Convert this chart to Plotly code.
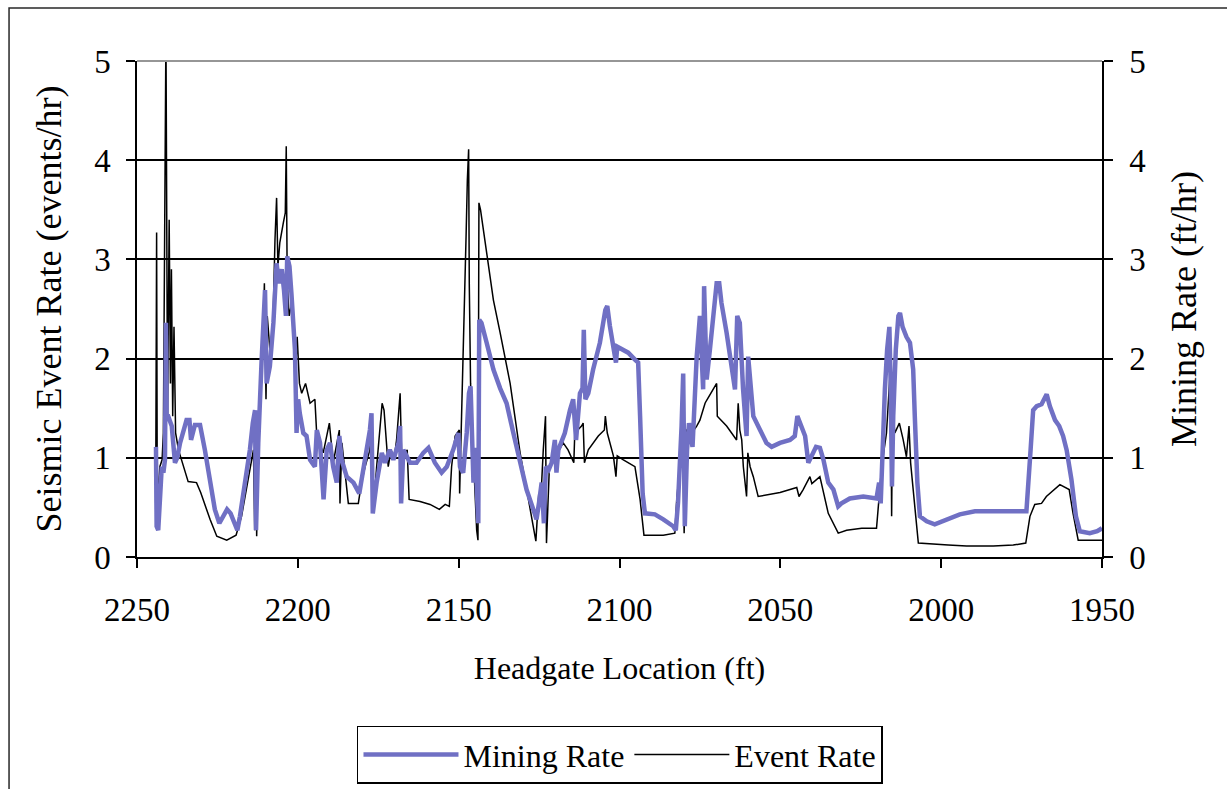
import plotly.graph_objects as go

# Event Rate (events/hr) vs headgate location (ft)
event_ft = [2244.2, 2243.9, 2243.7, 2242.9, 2242.2, 2241.8, 2241.0, 2240.8, 2240.5, 2240.0,
            2239.6, 2239.3, 2238.9, 2238.5, 2238.0, 2237.1, 2235.6, 2234.1, 2231.5, 2230.2,
            2227.3, 2225.2, 2222.1, 2219.2, 2217.5, 2215.4, 2213.8, 2213.4, 2213.0, 2212.8,
            2212.0, 2210.9, 2210.4, 2209.9, 2209.5, 2208.7, 2207.8, 2207.1, 2206.6, 2206.2,
            2205.6, 2204.5, 2203.9, 2203.6, 2203.3, 2202.7, 2201.9, 2201.2, 2200.7, 2200.2,
            2199.5, 2198.8, 2197.6, 2196.2, 2194.7, 2194.1, 2192.1, 2190.2, 2189.0, 2187.1,
            2186.9, 2186.3, 2184.3, 2181.2, 2180.2, 2179.1, 2177.6, 2177.05, 2176.5, 2175.5,
            2173.8, 2173.2, 2171.9, 2171.0, 2170.1, 2169.3, 2168.2, 2167.7, 2166.0, 2165.4,
            2162.0, 2158.9, 2156.0, 2154.2, 2152.9, 2152.2, 2151.1, 2149.8, 2149.7, 2149.1,
            2148.5, 2148.1, 2147.7, 2147.3, 2146.9, 2146.7, 2146.3, 2145.5, 2144.4, 2144.0,
            2143.7, 2143.2, 2141.3, 2139.2, 2137.1, 2134.0, 2130.9, 2126.8, 2126.0, 2125.1,
            2124.5, 2123.7, 2123.0, 2122.7, 2121.8, 2120.6, 2117.5, 2116.0, 2114.2, 2113.9,
            2111.8, 2111.3, 2110.9, 2109.7, 2106.6, 2104.7, 2104.4, 2103.8, 2101.9, 2101.1,
            2100.7, 2098.8, 2095.2, 2093.6, 2092.4, 2089.5, 2086.4, 2082.8, 2082.2, 2080.4,
            2079.9, 2079.3, 2077.5, 2076.0, 2075.0, 2073.4, 2072.9, 2069.8, 2069.6, 2066.7,
            2063.6, 2063.1, 2062.6, 2062.0, 2061.5, 2060.5, 2060.1, 2059.4, 2058.4, 2056.9,
            2050.1, 2044.9, 2044.2, 2042.9, 2040.8, 2040.2, 2037.7, 2035.1, 2032.0, 2029.4,
            2024.7, 2020.1, 2019.4, 2018.5, 2017.0, 2016.1, 2015.7, 2015.4, 2015.1, 2014.4,
            2013.0, 2011.8, 2010.8, 2010.0, 2009.5, 2007.9, 2007.1, 1997.8, 1992.1, 1983.8,
            1977.6, 1973.7, 1972.4, 1970.9, 1968.8, 1967.3, 1963.1, 1960.2, 1959.0, 1957.4,
            1950.0]
event_rate = [0.55, 3.27, 0.54, 0.91, 0.98, 1.25, 5.30, 3.90, 1.42, 3.40,
              1.75, 2.90, 1.42, 2.32, 1.25, 1.08, 0.91, 0.76, 0.75, 0.65,
              0.38, 0.21, 0.17, 0.22, 0.41, 0.78, 1.08, 0.27, 1.32, 0.21,
              1.42, 2.09, 2.76, 1.59, 2.43, 2.09, 2.26, 3.20, 3.62, 2.93,
              3.17, 3.37, 3.47, 4.14, 2.76, 2.43, 2.56, 2.36, 1.85, 2.22,
              1.75, 1.65, 1.75, 1.55, 1.59, 1.22, 1.05, 1.35, 0.95, 1.28,
              0.54, 1.15, 0.54, 0.54, 0.75, 0.91, 1.08, 1.42, 0.48, 0.91,
              1.55, 1.48, 0.91, 1.08, 0.98, 1.18, 1.65, 0.98, 1.08, 0.58,
              0.56, 0.53, 0.48, 0.53, 0.51, 0.91, 1.22, 1.28, 0.64, 1.42,
              2.09, 2.63, 3.23, 3.80, 4.11, 2.76, 1.75, 1.08, 0.27, 0.17,
              3.57, 3.50, 3.06, 2.59, 2.26, 1.75, 1.05, 0.31, 0.16, 0.64,
              0.55, 1.08, 1.42, 0.14, 0.91, 0.98, 1.15, 1.08, 0.95, 1.25,
              1.32, 1.35, 0.95, 1.08, 1.22, 1.28, 1.42, 1.25, 1.02, 0.81,
              1.02, 0.98, 0.91, 0.58, 0.22, 0.22, 0.22, 0.24, 0.58, 1.22,
              0.24, 1.28, 1.25, 1.32, 1.38, 1.55, 1.58, 1.75, 1.42, 1.32,
              1.18, 1.55, 1.28, 1.18, 0.91, 0.61, 1.05, 0.91, 0.81, 0.61,
              0.65, 0.70, 0.61, 0.68, 0.81, 0.74, 0.81, 0.44, 0.24, 0.27,
              0.29, 0.29, 0.58, 0.91, 1.25, 1.75, 1.95, 0.41, 1.48, 1.25,
              1.35, 1.18, 1.01, 1.32, 0.95, 0.41, 0.14, 0.12, 0.11, 0.11,
              0.12, 0.14, 0.41, 0.53, 0.54, 0.61, 0.73, 0.68, 0.44, 0.17,
              0.17]

# Mining Rate (ft/hr) vs headgate location (ft)
mining_ft = [2244.1, 2243.9, 2243.4, 2242.8, 2242.3, 2241.8, 2241.3, 2241.0, 2240.8, 2240.3,
             2239.2, 2238.2, 2237.5, 2236.6, 2235.6, 2234.6, 2233.7, 2233.2, 2232.0, 2230.4,
             2228.9, 2227.3, 2225.8, 2224.4, 2223.2, 2222.0, 2220.9, 2219.5, 2218.8, 2218.0,
             2216.4, 2214.9, 2214.0, 2213.3, 2213.0, 2212.3, 2211.3, 2210.2, 2209.7, 2208.7,
             2207.6, 2206.9, 2206.6, 2205.9, 2205.0, 2204.3, 2203.7, 2203.3, 2202.6, 2202.0,
             2201.6, 2200.9, 2200.4, 2199.9, 2199.4, 2198.3, 2197.3, 2196.2, 2194.7, 2194.1,
             2193.1, 2192.0, 2191.0, 2190.0, 2189.0, 2187.9, 2187.1, 2186.4, 2184.8, 2182.7,
             2180.9, 2179.1, 2177.6, 2177.1, 2176.7, 2175.5, 2173.9, 2172.9, 2171.4, 2170.3,
             2168.7, 2168.2, 2167.9, 2167.2, 2165.1, 2163.1, 2161.0, 2159.4, 2157.4, 2155.3,
             2153.7, 2151.7, 2150.1, 2149.6, 2148.6, 2147.5, 2146.8, 2146.3, 2145.9, 2145.4,
             2144.9, 2143.9, 2143.6, 2142.9, 2141.3, 2139.2, 2137.1, 2135.1, 2133.0, 2130.9,
             2128.9, 2126.8, 2125.8, 2125.0, 2124.2, 2123.5, 2122.9, 2122.0, 2121.1, 2120.1,
             2119.6, 2119.0, 2117.0, 2115.4, 2114.4, 2113.5, 2112.3, 2111.5, 2111.1, 2110.6,
             2109.7, 2108.2, 2106.1, 2104.4, 2103.8, 2103.0, 2102.1, 2101.1, 2100.7, 2099.3,
             2097.3, 2095.2, 2094.2, 2093.6, 2092.8, 2092.1, 2089.0, 2086.4, 2083.3, 2082.5,
             2081.8, 2080.7, 2080.2, 2079.7, 2079.0, 2078.4, 2077.3, 2076.6, 2076.0, 2075.0,
             2074.0, 2073.7, 2072.9, 2071.9, 2070.8, 2069.8, 2069.0, 2068.3, 2066.7, 2065.2,
             2064.1, 2063.4, 2062.6, 2061.6, 2060.5, 2060.0, 2059.2, 2058.4, 2056.3, 2054.3,
             2052.7, 2050.1, 2047.0, 2045.5, 2044.7, 2043.9, 2042.3, 2041.3, 2040.0, 2038.9,
             2037.7, 2036.6, 2035.1, 2033.5, 2032.0, 2031.0, 2028.4, 2024.2, 2020.1, 2019.3,
             2018.8, 2018.2, 2017.5, 2016.8, 2016.1, 2015.7, 2015.3, 2014.9, 2014.1, 2013.3,
             2012.8, 2012.0, 2010.8, 2009.7, 2008.7, 2008.2, 2007.4, 2006.6, 2004.5, 2002.0,
             1998.3, 1994.2, 1989.5, 1981.8, 1973.5, 1972.2, 1971.4, 1970.3, 1968.8, 1967.2,
             1966.2, 1964.6, 1963.3, 1962.1, 1961.0, 1959.5, 1958.1, 1956.9, 1953.8, 1951.5,
             1950.0]
mining_rate = [1.11, 0.31, 0.27, 0.75, 0.91, 0.85, 0.98, 2.36, 1.42, 1.42,
               1.32, 0.95, 1.00, 1.15, 1.25, 1.38, 1.38, 1.18, 1.33, 1.33,
               1.08, 0.78, 0.48, 0.34, 0.41, 0.48, 0.44, 0.34, 0.27, 0.41,
               0.75, 1.08, 1.35, 1.48, 0.27, 1.15, 1.95, 2.69, 1.75, 1.92,
               2.36, 2.83, 2.96, 2.76, 2.90, 2.69, 2.43, 3.03, 2.93, 2.66,
               2.43, 2.09, 1.25, 1.59, 1.45, 1.25, 1.22, 0.98, 0.91, 1.28,
               1.15, 0.58, 1.08, 1.15, 0.91, 0.75, 1.22, 0.98, 0.81, 0.75,
               0.64, 0.98, 1.28, 1.45, 0.44, 0.75, 1.05, 0.95, 1.08, 0.98,
               1.15, 1.32, 0.54, 1.08, 0.95, 0.95, 1.05, 1.10, 0.95, 0.85,
               0.91, 1.08, 1.25, 0.91, 0.85, 1.25, 1.65, 1.72, 1.15, 0.75,
               1.10, 0.34, 2.39, 2.36, 2.16, 1.89, 1.70, 1.55, 1.25, 0.96,
               0.68, 0.48, 0.38, 0.55, 0.75, 0.34, 0.91, 0.88, 0.95, 1.18,
               0.85, 1.08, 1.25, 1.48, 1.59, 1.18, 1.65, 1.70, 2.29, 1.59,
               1.65, 1.89, 2.16, 2.49, 2.53, 2.33, 2.16, 1.96, 2.12, 2.09,
               2.06, 1.99, 1.96, 1.42, 0.64, 0.44, 0.43, 0.38, 0.31, 0.27,
               0.55, 1.32, 1.85, 0.31, 1.08, 1.35, 1.11, 1.60, 2.02, 2.43,
               1.69, 2.73, 1.79, 2.09, 2.49, 2.76, 2.76, 2.56, 2.26, 1.92,
               1.69, 2.43, 2.36, 1.70, 1.22, 2.02, 1.75, 1.42, 1.28, 1.15,
               1.11, 1.15, 1.18, 1.22, 1.42, 1.35, 1.22, 0.95, 1.05, 1.11,
               1.10, 0.98, 0.75, 0.68, 0.51, 0.54, 0.59, 0.61, 0.59, 0.75,
               0.54, 1.25, 1.69, 2.09, 2.32, 1.75, 0.71, 1.42, 2.09, 2.43,
               2.46, 2.32, 2.22, 2.16, 1.89, 1.42, 0.75, 0.41, 0.36, 0.33,
               0.38, 0.43, 0.46, 0.46, 0.46, 1.08, 1.48, 1.52, 1.54, 1.64,
               1.52, 1.38, 1.32, 1.22, 1.08, 0.78, 0.41, 0.26, 0.24, 0.26,
               0.29]

x_ticks = [2250, 2200, 2150, 2100, 2050, 2000, 1950]
y_ticks = [0, 1, 2, 3, 4, 5]

FONT = "Liberation Serif"

fig = go.Figure()
fig.add_trace(go.Scatter(
    x=mining_ft, y=mining_rate, name="Mining Rate", mode="lines",
    line=dict(color="rgb(112,112,196)", width=4.5), yaxis="y2"))
fig.add_trace(go.Scatter(
    x=event_ft, y=event_rate, name="Event Rate", mode="lines",
    line=dict(color="black", width=1.5), yaxis="y"))

axis_font = dict(family=FONT, size=33, color="black")

fig.update_layout(
    width=1227, height=789,
    margin=dict(l=137, r=125, t=61, b=232, autoexpand=False),
    paper_bgcolor="white", plot_bgcolor="white",
    font=dict(family=FONT, size=32, color="black"),
    xaxis=dict(range=[2250, 1950], tickvals=x_ticks, ticks="outside", ticklen=9,
               tickcolor="black", tickwidth=1.5, showline=True, linecolor="black",
               linewidth=1.5, showgrid=False, zeroline=False, tickfont=axis_font,
               ticklabelstandoff=14, automargin=False,
               title=dict(text="Headgate Location (ft)", font=dict(family=FONT, size=32),
                          standoff=29)),
    yaxis=dict(range=[0, 5], tickvals=y_ticks, ticks="outside", ticklen=9,
               tickcolor="black", tickwidth=1.5, showline=True, linecolor="black",
               linewidth=1.5, showgrid=True, gridcolor="black", gridwidth=1.5,
               zeroline=False, tickfont=axis_font, ticklabelstandoff=9,
               automargin=False,
               title=dict(text="Seismic Event Rate (events/hr)",
                          font=dict(family=FONT, size=36), standoff=22)),
    yaxis2=dict(range=[0, 5], tickvals=y_ticks, ticks="outside", ticklen=9,
                tickcolor="black", tickwidth=1.5, showline=True, linecolor="black",
                linewidth=1.5, showgrid=False, zeroline=False, overlaying="y",
                side="right", tickfont=axis_font, ticklabelstandoff=10,
                automargin=False,
                title=dict(text="Mining Rate (ft/hr)", font=dict(family=FONT, size=36),
                           standoff=26)),
    legend=dict(orientation="h", x=0.5005, y=-0.34, xanchor="center", yanchor="top",
                bordercolor="black", borderwidth=1.5, bgcolor="white",
                font=dict(family=FONT, size=32), itemwidth=95,
                tracegroupgap=0),
    showlegend=True,
    shapes=[
        # gray top border of plot area
        dict(type="line", xref="paper", yref="paper", x0=0, x1=1, y0=1, y1=1,
             line=dict(color="rgb(150,150,150)", width=2)),
        # outer chart frame
        dict(type="rect", xref="paper", yref="paper", x0=-0.1326, x1=1.3,
             y0=-0.7, y1=1.1069, line=dict(color="rgb(40,40,40)", width=1.5),
             layer="below"),
    ],
)

fig.write_html("out.html", config={"displayModeBar": False},
               post_script="document.body.style.margin='0';document.body.style.padding='0';")
